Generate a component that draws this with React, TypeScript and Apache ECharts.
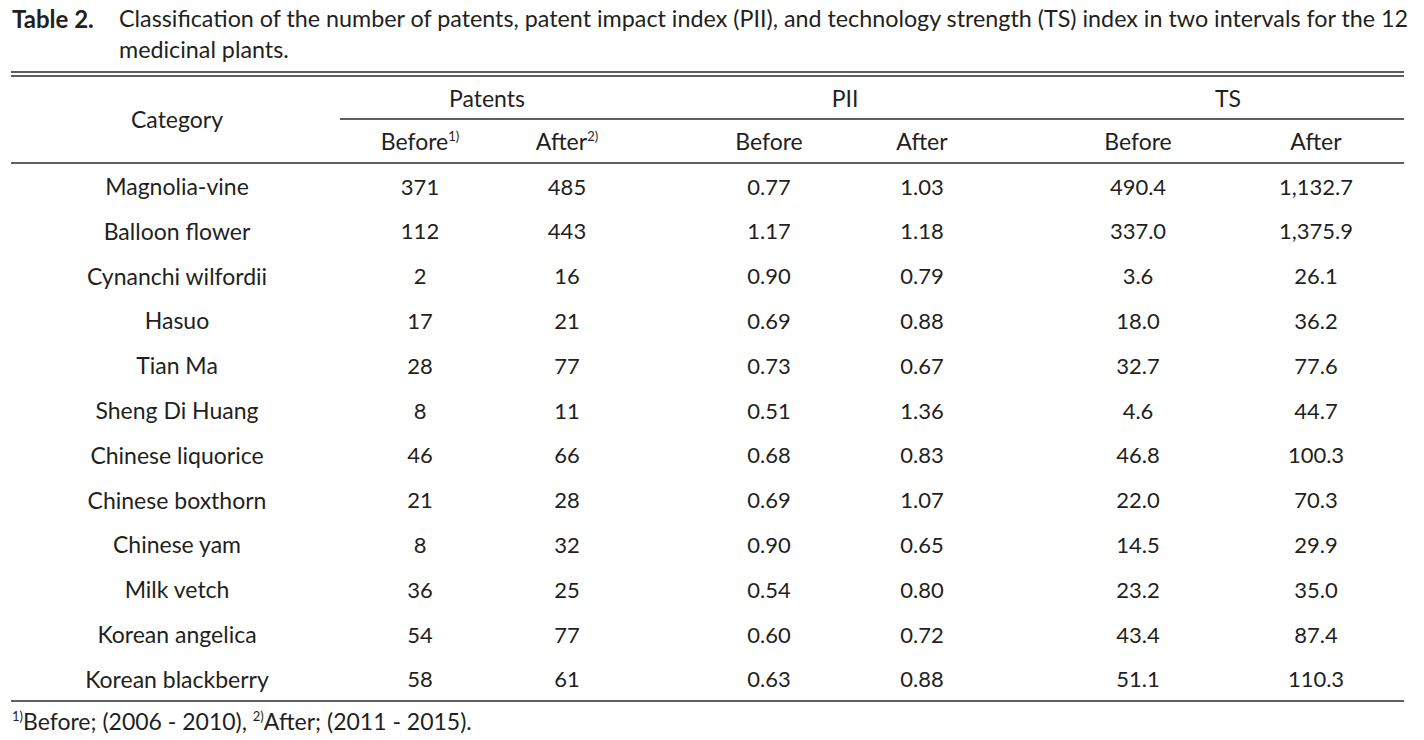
import React, { useEffect, useRef } from "react";
import * as echarts from "echarts";

const titleLabel = "Table 2.";
const titleLine1 =
  "Classification of the number of patents, patent impact index (PII), and technology strength (TS) index in two intervals for the 12";
const titleLine2 = "medicinal plants.";
const groupHeaders = ["Patents", "PII", "TS"];
const subHeaders = ["Before", "After", "Before", "After", "Before", "After"];
const subHeaderNotes = ["1)", "2)", "", "", "", ""];
const categoryHeader = "Category";
const categories = [
  "Magnolia-vine",
  "Balloon flower",
  "Cynanchi wilfordii",
  "Hasuo",
  "Tian Ma",
  "Sheng Di Huang",
  "Chinese liquorice",
  "Chinese boxthorn",
  "Chinese yam",
  "Milk vetch",
  "Korean angelica",
  "Korean blackberry",
];
const patentsBefore = [371, 112, 2, 17, 28, 8, 46, 21, 8, 36, 54, 58];
const patentsAfter = [485, 443, 16, 21, 77, 11, 66, 28, 32, 25, 77, 61];
const piiBefore = [0.77, 1.17, 0.9, 0.69, 0.73, 0.51, 0.68, 0.69, 0.9, 0.54, 0.6, 0.63];
const piiAfter = [1.03, 1.18, 0.79, 0.88, 0.67, 1.36, 0.83, 1.07, 0.65, 0.8, 0.72, 0.88];
const tsBefore = [490.4, 337.0, 3.6, 18.0, 32.7, 4.6, 46.8, 22.0, 14.5, 23.2, 43.4, 51.1];
const tsAfter = [1132.7, 1375.9, 26.1, 36.2, 77.6, 44.7, 100.3, 70.3, 29.9, 35.0, 87.4, 110.3];
const footnote = [
  { note: "1)", text: "Before; (2006 - 2010), " },
  { note: "2)", text: "After; (2011 - 2015)." },
];

const FONT = "Lato";
const INK = "#231f20";

const fmt = (v: number, d: number) =>
  v.toLocaleString("en-US", { minimumFractionDigits: d, maximumFractionDigits: d });

export default function App() {
  const ref = useRef<HTMLDivElement>(null);
  useEffect(() => {
    document.body.style.margin = "0";
    const chart = echarts.init(ref.current!, undefined, { renderer: "svg" });

    const left = 11;
    const right = 1404;
    const colX = [177, 420, 567, 769, 922, 1138, 1316];
    const groupX = [487, 845, 1228];
    const rowY0 = 186;
    const rowStep = 44.8;
    const fsText = 23;
    const fsNum = 22;
    const fsTitle = 23.3;

    const els: any[] = [];
    const txt = (x: number, y: number, text: string, size: number, extra: any = {}) =>
      els.push({
        type: "text",
        x,
        y,
        style: {
          text,
          fill: INK,
          font: `${size}px ${FONT}`,
          align: "center",
          verticalAlign: "middle",
          ...extra,
        },
      });
    const hline = (y: number, x1: number, x2: number) =>
      els.push({
        type: "line",
        shape: { x1, y1: y, x2, y2: y },
        style: { stroke: "#2a2a2a", lineWidth: 1.5 },
      });

    // title
    txt(12, 18, titleLabel, 24, { align: "left", font: `bold 24px ${FONT}` });
    txt(119, 18, titleLine1, fsTitle, { align: "left" });
    txt(119, 49, titleLine2, fsTitle, { align: "left" });

    // rules
    hline(72, left, right);
    hline(76, left, right);
    hline(119, 340, right);
    hline(163, left, right);
    hline(701, left, right);

    // headers
    txt(colX[0], 119, categoryHeader, fsText);
    groupHeaders.forEach((g, i) => txt(groupX[i], 98, g, fsText));
    subHeaders.forEach((s, i) => {
      const note = subHeaderNotes[i];
      els.push({
        type: "text",
        x: colX[i + 1],
        y: 141,
        style: {
          text: note ? `{m|${s}}{s|${note}}` : `{m|${s}}`,
          align: "center",
          verticalAlign: "middle",
          rich: {
            m: { fill: INK, font: `${fsText}px ${FONT}` },
            s: { fill: INK, font: `13px ${FONT}`, verticalAlign: "top" },
          },
        },
      });
    });

    // body
    categories.forEach((c, r) => {
      const y = rowY0 + r * rowStep;
      const cells = [
        c,
        String(patentsBefore[r]),
        String(patentsAfter[r]),
        fmt(piiBefore[r], 2),
        fmt(piiAfter[r], 2),
        fmt(tsBefore[r], 1),
        fmt(tsAfter[r], 1),
      ];
      cells.forEach((t, i) => txt(colX[i], y, t, i === 0 ? fsText : fsNum));
    });

    // footnote
    els.push({
      type: "text",
      x: 12,
      y: 721,
      style: {
        text: footnote.map((f) => `{s|${f.note}}{m|${f.text}}`).join(""),
        align: "left",
        verticalAlign: "middle",
        rich: {
          m: { fill: INK, font: `${fsText}px ${FONT}` },
          s: { fill: INK, font: `13px ${FONT}`, verticalAlign: "top" },
        },
      },
    });

    chart.setOption({
      animation: false,
      backgroundColor: "#ffffff",
      graphic: { elements: els },
    });
    return () => chart.dispose();
  }, []);
  return <div ref={ref} style={{ width: 1424, height: 740 }} />;
}
